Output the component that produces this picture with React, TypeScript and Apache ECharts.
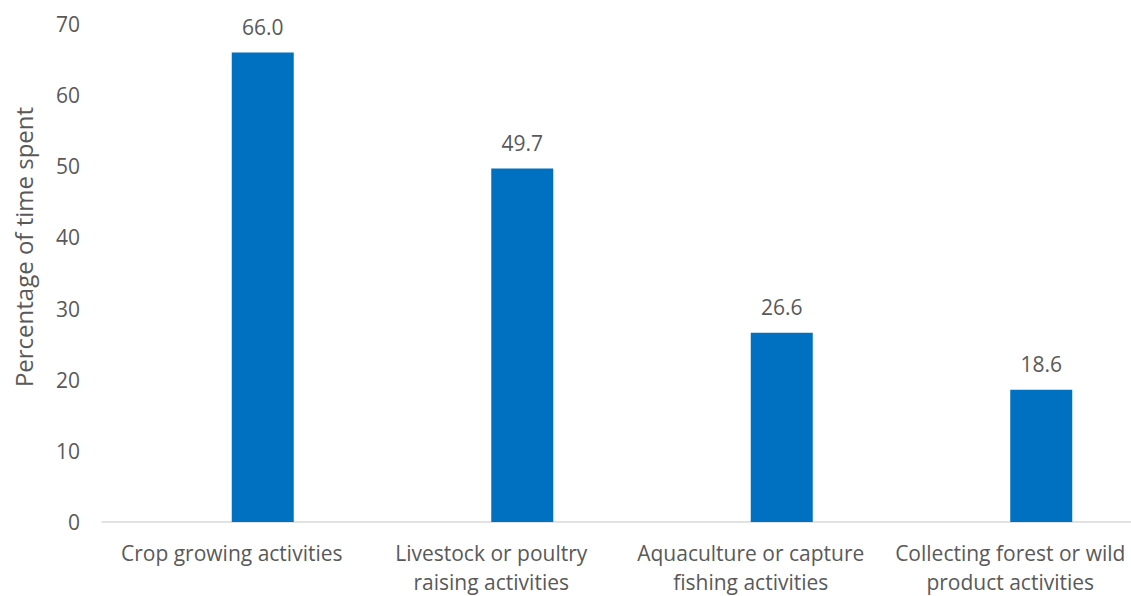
import React, { useEffect, useRef } from "react";
import * as echarts from "echarts";

// Activity categories (x axis) and share of time spent on each
const categories = [
  "Crop growing activities",
  "Livestock or poultry\nraising activities",
  "Aquaculture or capture\nfishing activities",
  "Collecting forest or wild\nproduct activities",
];
const timeSpent = [66.0, 49.7, 26.6, 18.6];
// Empty companion series: keeps the visible bars to the right of each category centre
const placeholder = [null, null, null, null];

const yTicks = { min: 0, max: 70, interval: 10 };

const FONT = "'Open Sans', sans-serif";
const TEXT = "#595959";
const BAR = "#0070C0";

export default function App() {
  const ref = useRef<HTMLDivElement>(null);

  useEffect(() => {
    document.body.style.margin = "0";
    const chart = echarts.init(ref.current!, null, { renderer: "svg" });
    chart.setOption({
      animation: false,
      backgroundColor: "#ffffff",
      textStyle: { fontFamily: FONT, color: TEXT },
      grid: { left: 102, top: 24, width: 1038, height: 499, containLabel: false },
      xAxis: {
        type: "category",
        data: categories,
        axisLine: { show: true, lineStyle: { color: "#D9D9D9", width: 1.5 } },
        axisTick: { show: false },
        axisLabel: {
          color: TEXT,
          fontFamily: FONT,
          fontSize: 21,
          lineHeight: 29,
          margin: 16,
          interval: 0,
        },
      },
      yAxis: {
        type: "value",
        min: yTicks.min,
        max: yTicks.max,
        interval: yTicks.interval,
        axisLine: { show: false },
        axisTick: { show: false },
        splitLine: { show: false },
        axisLabel: { color: TEXT, fontFamily: FONT, fontSize: 21, margin: 22 },
      },
      series: [
        {
          type: "bar",
          name: "placeholder",
          data: placeholder,
          barWidth: 62,
          barGap: "0%",
          itemStyle: { color: "transparent" },
          silent: true,
        },
        {
          type: "bar",
          name: "Percentage of time spent",
          data: timeSpent,
          barWidth: 62,
          barGap: "0%",
          itemStyle: { color: BAR },
          label: {
            show: true,
            position: "top",
            distance: 15,
            color: TEXT,
            fontFamily: FONT,
            fontSize: 21,
            formatter: (p: any) => Number(p.value).toFixed(1),
          },
        },
      ],
      graphic: [
        {
          type: "text",
          x: 23,
          y: 247,
          rotation: Math.PI / 2,
          style: {
            text: "Percentage of time spent",
            fill: TEXT,
            font: `24px ${FONT}`,
            textAlign: "center",
            textVerticalAlign: "middle",
          },
        },
      ],
    });
    return () => chart.dispose();
  }, []);

  // The plot area runs slightly past the right edge, so the chart is drawn wider and clipped
  return (
    <div style={{ width: 1131, height: 596, overflow: "hidden" }}>
      <div ref={ref} style={{ width: 1145, height: 596 }} />
    </div>
  );
}
